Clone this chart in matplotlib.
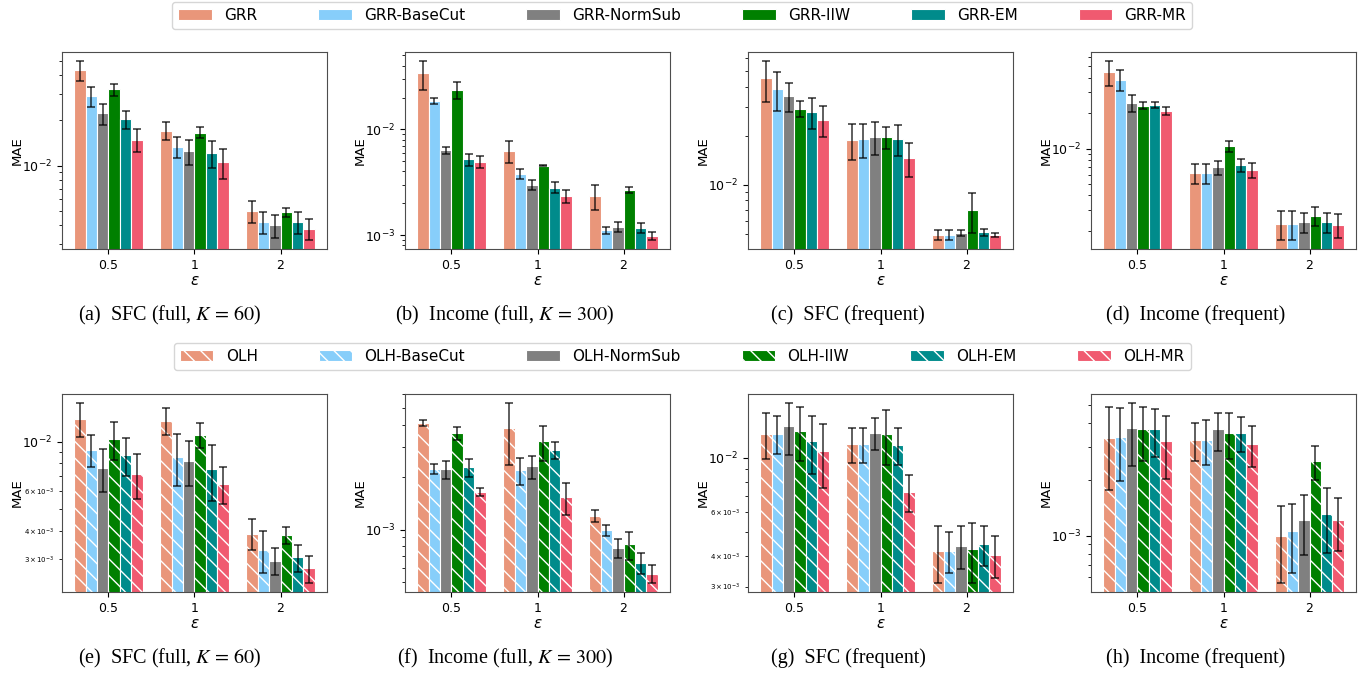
import numpy as np
import matplotlib
matplotlib.use('Agg')
import matplotlib.pyplot as plt

plt.rcParams['mathtext.fontset'] = 'stix'

eps_labels = ['0.5', '1', '2']
grr_methods = ['GRR', 'GRR-BaseCut', 'GRR-NormSub', 'GRR-IIW', 'GRR-EM', 'GRR-MR']
olh_methods = ['OLH', 'OLH-BaseCut', 'OLH-NormSub', 'OLH-IIW', 'OLH-EM', 'OLH-MR']
colors = ['#E9967A', '#87CEFA', '#808080', '#008000', '#008B8B', '#F05A70']

# rows: epsilon 0.5, 1, 2 ; columns: methods in the order above
grr_sfc_full = [[0.0433, 0.0291, 0.0223, 0.0322, 0.0203, 0.0149],
                [0.0171, 0.0134, 0.0125, 0.0166, 0.0121, 0.0105],
                [0.0050, 0.0042, 0.0040, 0.0049, 0.0042, 0.0038]]
grr_sfc_full_err = [[0.0065, 0.0044, 0.0036, 0.0030, 0.0028, 0.0025],
                    [0.0024, 0.0022, 0.0024, 0.0014, 0.0024, 0.0023],
                    [0.00085, 0.00072, 0.00072, 0.00033, 0.00072, 0.00061]]

grr_income_full = [[0.0340, 0.01845, 0.00636, 0.0237, 0.00523, 0.00494],
                   [0.00627, 0.00379, 0.00299, 0.00453, 0.00282, 0.00234],
                   [0.00237, 0.00111, 0.00120, 0.00268, 0.00117, 0.00099]]
grr_income_full_err = [[0.0103, 0.0012, 0.00048, 0.0045, 0.00068, 0.00064],
                       [0.00145, 0.00039, 0.00033, 0.00005, 0.00034, 0.00032],
                       [0.00063, 0.00008, 0.00012, 0.00020, 0.00013, 0.00009]]

grr_sfc_freq = [[0.0449, 0.0388, 0.0349, 0.0292, 0.0280, 0.0249],
                [0.0189, 0.0190, 0.0196, 0.0195, 0.0191, 0.0146],
                [0.00491, 0.00491, 0.00503, 0.00694, 0.00508, 0.00491]]
grr_sfc_freq_err = [[0.0126, 0.0105, 0.0071, 0.0032, 0.0060, 0.0054],
                    [0.0048, 0.0045, 0.0045, 0.0030, 0.0041, 0.0034],
                    [0.00035, 0.00035, 0.00020, 0.0019, 0.00025, 0.00015]]

grr_income_freq = [[0.0448, 0.0385, 0.0246, 0.0232, 0.0237, 0.0209],
                   [0.0062, 0.0062, 0.00695, 0.01046, 0.00723, 0.0066],
                   [0.0023, 0.0023, 0.00238, 0.00268, 0.00238, 0.00226]]
grr_income_freq_err = [[0.0108, 0.0077, 0.0040, 0.0016, 0.0014, 0.0015],
                       [0.00123, 0.00115, 0.00097, 0.00105, 0.00095, 0.00097],
                       [0.00063, 0.00063, 0.00046, 0.00050, 0.00045, 0.00052]]

olh_sfc_full = [[0.01266, 0.00918, 0.00763, 0.01024, 0.00869, 0.00718],
                [0.0124, 0.00855, 0.0082, 0.01074, 0.00755, 0.0065],
                [0.00389, 0.00329, 0.00294, 0.00382, 0.00305, 0.00272]]
olh_sfc_full_err = [[0.0022, 0.0015, 0.00166, 0.00195, 0.00167, 0.00165],
                    [0.00175, 0.00224, 0.00187, 0.00134, 0.0021, 0.00122],
                    [0.00062, 0.0007, 0.0004, 0.00033, 0.00042, 0.00038]]

olh_income_full = [[0.00412, 0.00224, 0.00222, 0.00358, 0.00229, 0.00165],
                   [0.00386, 0.00219, 0.00231, 0.00322, 0.00287, 0.00154],
                   [0.0012, 0.00099, 0.000784, 0.00082, 0.000642, 0.000557]]
olh_income_full_err = [[0.00017, 0.00016, 0.00027, 0.0003, 0.00027, 0.00009],
                       [0.0015, 0.00039, 0.00035, 0.00074, 0.00032, 0.00032],
                       [0.0001, 0.00007, 0.0001, 0.00015, 0.00009, 0.000065]]

olh_sfc_freq = [[0.01254, 0.01254, 0.01348, 0.01286, 0.01172, 0.01067],
                [0.01136, 0.01136, 0.01262, 0.01247, 0.01125, 0.00726],
                [0.0042, 0.00419, 0.0044, 0.00427, 0.00445, 0.00403]]
olh_sfc_freq_err = [[0.0027, 0.0022, 0.0032, 0.0032, 0.0031, 0.0031],
                    [0.0018, 0.0018, 0.0019, 0.0031, 0.0019, 0.00123],
                    [0.0011, 0.00079, 0.00088, 0.00116, 0.00082, 0.00079]]

olh_income_freq = [[0.00332, 0.00339, 0.00376, 0.00371, 0.00371, 0.0032],
                   [0.00327, 0.00327, 0.00371, 0.00356, 0.00356, 0.00312],
                   [0.0010, 0.00106, 0.00122, 0.00252, 0.00131, 0.00121]]
olh_income_freq_err = [[0.00155, 0.00143, 0.00138, 0.00119, 0.00108, 0.00118],
                       [0.00075, 0.00088, 0.00086, 0.00098, 0.00074, 0.00077],
                       [0.00044, 0.00043, 0.00043, 0.00052, 0.0005, 0.00038]]

captions = ['(a)  SFC (full, $K\\,=\\,60$)', '(b)  Income (full, $K\\,=\\,300$)',
            '(c)  SFC (frequent)', '(d)  Income (frequent)',
            '(e)  SFC (full, $K\\,=\\,60$)', '(f)  Income (full, $K\\,=\\,300$)',
            '(g)  SFC (frequent)', '(h)  Income (frequent)']


def draw_panel(ax, mae, err, names, hatched):
    x = np.arange(len(eps_labels))
    w = 0.8 / len(names)
    for i, name in enumerate(names):
        vals = [row[i] for row in mae]
        errs = [row[i] for row in err]
        hatch = '\\\\' if hatched and 'NormSub' not in name else None
        ax.bar(x + (i - 2.5) * w, vals, w, yerr=errs, color=colors[i],
               edgecolor='white', linewidth=0.8, hatch=hatch, label=name,
               capsize=3,
               error_kw=dict(ecolor='black', elinewidth=1.1, capthick=1.1, alpha=0.8))
    ax.set_yscale('log')
    ax.set_xticks(x)
    ax.set_xticklabels(eps_labels)
    ax.set_xlabel(r'$\epsilon$', fontsize=11, labelpad=1,
                  math_fontfamily='dejavusans')
    ax.set_ylabel('MAE', fontsize=9.5, labelpad=-1)
    ax.tick_params(axis='both', which='major', labelsize=9)
    ax.tick_params(axis='y', which='minor', labelsize=5)
    for s in ax.spines.values():
        s.set_color('0.3')


fig = plt.figure(figsize=(13.67, 6.74), dpi=100)
W, H = 1367.0, 674.0
lefts = [62, 405, 748, 1091]
panel_w = 265
rows = [(52, 249), (394, 592)]

panels = [(grr_sfc_full, grr_sfc_full_err), (grr_income_full, grr_income_full_err),
          (grr_sfc_freq, grr_sfc_freq_err), (grr_income_freq, grr_income_freq_err),
          (olh_sfc_full, olh_sfc_full_err), (olh_income_full, olh_income_full_err),
          (olh_sfc_freq, olh_sfc_freq_err), (olh_income_freq, olh_income_freq_err)]
cap_x = [170, 505, 848, 1196]
cap_y = [315, 658]

axes = []
for k, (mae, err) in enumerate(panels):
    r, c = divmod(k, 4)
    top, bot = rows[r]
    ax = fig.add_axes([lefts[c] / W, 1 - bot / H, panel_w / W, (bot - top) / H])
    draw_panel(ax, mae, err, grr_methods if r == 0 else olh_methods, hatched=(r == 1))
    axes.append(ax)
    fig.text(cap_x[c] / W, 1 - cap_y[r] / H, captions[k], ha='center', va='center',
             fontsize=14.5, family='Liberation Serif')

for r, ax in zip([0, 1], [axes[0], axes[4]]):
    h, l = ax.get_legend_handles_labels()
    y = 1 - 2 / H if r == 0 else 1 - 343 / H
    fig.legend(h, l, loc='upper center', bbox_to_anchor=(0.499, y), ncol=6,
               fontsize=11, columnspacing=4.0, handlelength=2.2, borderpad=0.4,
               borderaxespad=0.0, frameon=True)

fig.savefig('out.png', dpi=100)
